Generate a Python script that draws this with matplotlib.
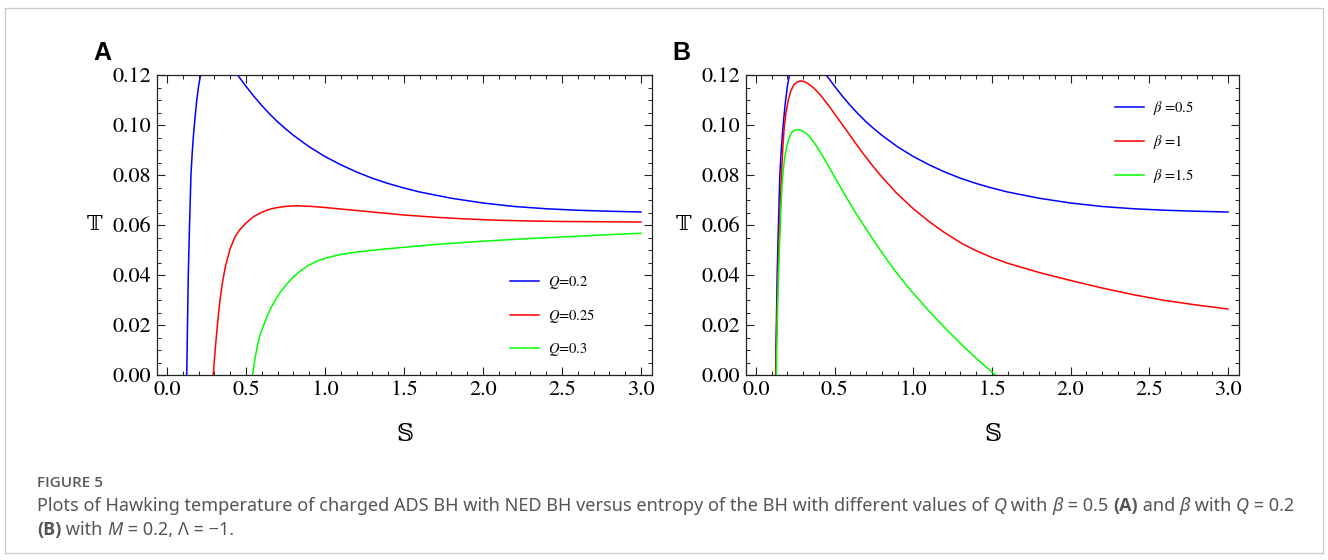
import matplotlib
matplotlib.use("Agg")
from matplotlib import pyplot as plt
from matplotlib.patches import Rectangle
from matplotlib.ticker import MultipleLocator, FormatStrFormatter

# valores leidos de la figura
# curva azul (Q=0.2, beta=0.5): es la misma en los dos paneles, dos ramas
S_azul_izq = [0.125, 0.1275, 0.130, 0.1325, 0.135, 0.139, 0.143, 0.1475, 0.152, 0.160, 0.168, 0.177, 0.188, 0.200, 0.213]
T_azul_izq = [0.0, 0.01, 0.02, 0.03, 0.04, 0.05, 0.06, 0.07, 0.08, 0.089, 0.096, 0.1025, 0.1095, 0.1155, 0.12]
S_azul_der = [0.447, 0.5, 0.55, 0.6, 0.65, 0.7, 0.75, 0.8, 0.9, 1.0, 1.1, 1.2, 1.3, 1.4, 1.5, 1.6, 1.8, 2.0,
              2.2, 2.4, 2.6, 2.8, 3.0]
T_azul_der = [0.12, 0.1155, 0.1115, 0.1078, 0.1044, 0.1013, 0.0985, 0.0959, 0.0913, 0.0874, 0.0841, 0.0812, 0.0787,
              0.0766, 0.0748, 0.0732, 0.0707, 0.0688, 0.0674, 0.0665, 0.0659, 0.0655, 0.0652]

# panel A
S_rojo_A = [0.293, 0.300, 0.31, 0.32, 0.335, 0.35, 0.37, 0.40, 0.43, 0.46, 0.50, 0.55, 0.60, 0.65, 0.70, 0.76, 0.82,
            0.90, 1.0, 1.1, 1.2, 1.3, 1.4, 1.5, 1.7, 1.9, 2.1, 2.3, 2.5, 2.75, 3.0]
T_rojo_A = [0.0, 0.006, 0.0135, 0.0205, 0.0295, 0.0365, 0.0435, 0.0505, 0.0552, 0.0580, 0.0608, 0.0634, 0.0651,
            0.0663, 0.0670, 0.0675, 0.0677, 0.0675, 0.0670, 0.0664, 0.0658, 0.0652, 0.0646, 0.0640, 0.0631, 0.0624,
            0.0619, 0.0616, 0.0614, 0.0613, 0.0612]
S_verde_A = [0.542, 0.55, 0.56, 0.575, 0.59, 0.61, 0.635, 0.66, 0.69, 0.72, 0.76, 0.80, 0.85, 0.90, 0.96, 1.03, 1.1,
             1.2, 1.35, 1.5, 1.7, 1.9, 2.1, 2.3, 2.5, 2.75, 3.0]
T_verde_A = [0.0, 0.0035, 0.0075, 0.0125, 0.0162, 0.0195, 0.0237, 0.0271, 0.0304, 0.0333, 0.0365, 0.0392, 0.0419,
             0.0440, 0.0458, 0.0472, 0.0482, 0.0492, 0.0502, 0.0511, 0.0522, 0.0531, 0.0539, 0.0546, 0.0552, 0.0560,
             0.0567]

# panel B
S_rojo_B = [0.126, 0.129, 0.132, 0.136, 0.140, 0.145, 0.150, 0.156, 0.162, 0.172, 0.180, 0.190, 0.205, 0.22, 0.24,
            0.26, 0.283, 0.305, 0.33, 0.36, 0.39, 0.42, 0.468, 0.52, 0.574, 0.63, 0.679, 0.74, 0.79, 0.89, 1.0,
            1.1, 1.2, 1.312, 1.4, 1.5, 1.6, 1.8, 2.0, 2.2, 2.4, 2.6, 2.8, 3.0]
T_rojo_B = [0.0, 0.01, 0.02, 0.03, 0.04, 0.05, 0.06, 0.07, 0.08, 0.092, 0.099, 0.1045, 0.1098, 0.1133, 0.1160,
            0.1171, 0.1176, 0.1174, 0.1166, 0.1152, 0.1134, 0.1112, 0.1073, 0.1027, 0.0980, 0.0930, 0.0888, 0.0838,
            0.0800, 0.0730, 0.0665, 0.0614, 0.0569, 0.0525, 0.0497, 0.0470, 0.0447, 0.0410, 0.0378, 0.0348, 0.0321,
            0.0298, 0.0280, 0.0264]
S_verde_B = [0.130, 0.1325, 0.1355, 0.139, 0.1435, 0.149, 0.155, 0.160, 0.166, 0.173, 0.182, 0.193, 0.205, 0.22,
             0.235, 0.25, 0.267, 0.29, 0.31, 0.335, 0.363, 0.39, 0.42, 0.445, 0.468, 0.52, 0.574, 0.63, 0.679, 0.73,
             0.78, 0.84, 0.89, 0.95, 1.0, 1.1, 1.2, 1.3, 1.4, 1.5, 1.522]
T_verde_B = [0.0, 0.01, 0.02, 0.03, 0.04, 0.05, 0.06, 0.068, 0.0755, 0.0815, 0.0865, 0.0905, 0.0937, 0.0962, 0.0975,
             0.0980, 0.0982, 0.0978, 0.0971, 0.0958, 0.0936, 0.0911, 0.0880, 0.0853, 0.0828, 0.0770, 0.0711, 0.0653,
             0.0605, 0.0556, 0.0509, 0.0455, 0.0412, 0.0364, 0.0327, 0.0256, 0.0189, 0.0126, 0.0067, 0.0012, 0.0]

etiquetas_A = ["$Q$=0.2", "$Q$=0.25", "$Q$=0.3"]
etiquetas_B = [r"$\beta$ =0.5", r"$\beta$ =1", r"$\beta$ =1.5"]
colores = ["#0000ff", "#ff0000", "#00ff00"]

plt.rcParams["mathtext.fontset"] = "stix"

W, H = 1328, 560
fig = plt.figure(figsize=(W / 100, H / 100), dpi=100)

axA = fig.add_axes([157 / W, 1 - 375 / H, 495 / W, 300 / H])
axB = fig.add_axes([746 / W, 1 - 375 / H, 493 / W, 300 / H])

lw = 1.1
axA.plot(S_azul_izq, T_azul_izq, color=colores[0], lw=lw, label=etiquetas_A[0])
axA.plot(S_azul_der, T_azul_der, color=colores[0], lw=lw)
axA.plot(S_rojo_A, T_rojo_A, color=colores[1], lw=lw, label=etiquetas_A[1])
axA.plot(S_verde_A, T_verde_A, color=colores[2], lw=lw, label=etiquetas_A[2])

axB.plot(S_azul_izq, T_azul_izq, color=colores[0], lw=lw, label=etiquetas_B[0])
axB.plot(S_azul_der, T_azul_der, color=colores[0], lw=lw)
axB.plot(S_rojo_B, T_rojo_B, color=colores[1], lw=lw, label=etiquetas_B[1])
axB.plot(S_verde_B, T_verde_B, color=colores[2], lw=lw, label=etiquetas_B[2])

for ax in [axA, axB]:
    ax.set_xlim(-0.063, 3.07)
    ax.set_ylim(0, 0.12)
    ax.xaxis.set_major_locator(MultipleLocator(0.5))
    ax.xaxis.set_minor_locator(MultipleLocator(0.1))
    ax.yaxis.set_major_locator(MultipleLocator(0.02))
    ax.yaxis.set_minor_locator(MultipleLocator(0.005))
    ax.xaxis.set_major_formatter(FormatStrFormatter("%.1f"))
    ax.yaxis.set_major_formatter(FormatStrFormatter("%.2f"))
    ax.tick_params(which="both", direction="in", top=True, right=True, color="#222222")
    ax.tick_params(which="major", length=5.5, width=0.8, pad=4)
    ax.tick_params(which="minor", length=3.2, width=0.7)
    for lab in ax.get_xticklabels() + ax.get_yticklabels():
        lab.set_family("STIXGeneral")
        lab.set_fontsize(16)
    for sp in ax.spines.values():
        sp.set_color("#222222")
        sp.set_linewidth(0.9)
    ax.set_xlabel("𝕊", fontsize=17, family=["DejaVu Serif", "DejaVu Sans"])
    ax.xaxis.set_label_coords(0.5, -0.16)
    ax.set_ylabel("𝕋", fontsize=15, rotation=0, ha="center", va="center", family=["DejaVu Serif", "DejaVu Sans"])
    ax.yaxis.set_label_coords(-0.127, 0.5)

props = {"family": "STIXGeneral", "size": 10.5}
axA.legend(loc="upper left", bbox_to_anchor=(510 / W, 1 - 274 / H), bbox_transform=fig.transFigure,
           frameon=False, prop=props, handlelength=2.0, handletextpad=0.6, labelspacing=1.1,
           borderpad=0, borderaxespad=0)
axB.legend(loc="upper left", bbox_to_anchor=(1115 / W, 1 - 99 / H), bbox_transform=fig.transFigure,
           frameon=False, prop=props, handlelength=2.0, handletextpad=0.6, labelspacing=1.1,
           borderpad=0, borderaxespad=0)

fig.text(93 / W, 1 - 60 / H, "A", family="Liberation Sans", weight="bold", fontsize=18, va="baseline")
fig.text(672 / W, 1 - 60 / H, "B", family="Liberation Sans", weight="bold", fontsize=18, va="baseline")

# pie de figura, por trozos para poder mezclar cursiva y negrita
gris = "#555555"
fig.text(37 / W, 1 - 483 / H, "FIGURE 5", family="Open Sans", weight="semibold", fontsize=11, color="#5a5a5a",
         va="center")

linea1 = [("Plots of Hawking temperature of charged ADS BH with NED BH versus entropy of the BH with different "
           "values of ", "normal", "normal"), ("Q", "italic", "normal"), (" with ", "normal", "normal"),
          ("β", "italic", "normal"), (" = 0.5 ", "normal", "normal"), ("(A)", "normal", "bold"),
          (" and ", "normal", "normal"), ("β", "italic", "normal"), (" with ", "normal", "normal"),
          ("Q", "italic", "normal"), (" = 0.2", "normal", "normal")]
linea2 = [("(B)", "normal", "bold"), (" with ", "normal", "normal"), ("M", "italic", "normal"),
          (" = 0.2, Λ = −1.", "normal", "normal")]

renderer = fig.canvas.get_renderer()
for trozos, ypix in [(linea1, 506), (linea2, 530)]:
    x = 37
    for txt, estilo, peso in trozos:
        fam = "Open Sans" if peso == "bold" else "Noto Sans"
        t = fig.text(x / W, 1 - ypix / H, txt, family=fam, fontsize=13, color=gris, va="center",
                     style=estilo, weight=peso)
        bb = t.get_window_extent(renderer=renderer)
        x = x + bb.width

fig.patches.append(Rectangle((5 / W, 7 / H), 1318 / W, 545 / H, transform=fig.transFigure,
                             fill=False, ec="#cccccc", lw=1))

plt.savefig("out.png", dpi=100)
